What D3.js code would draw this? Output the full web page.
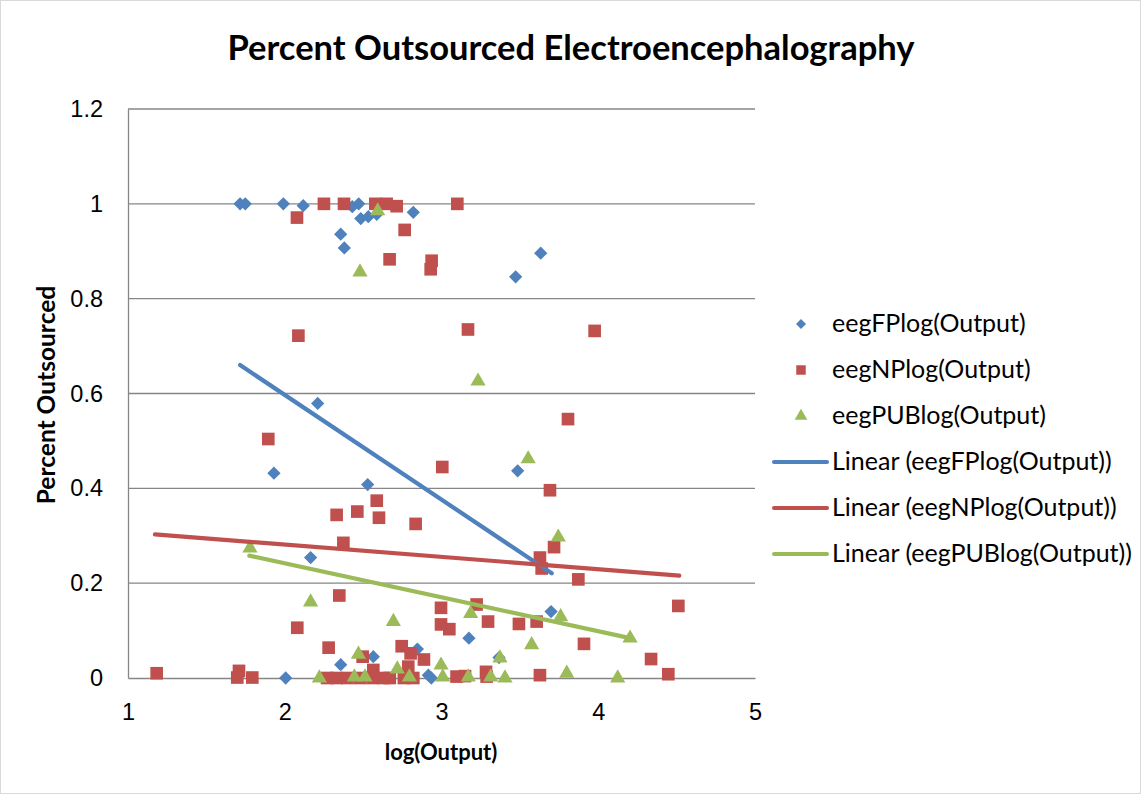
<!doctype html>
<html>
<head>
<meta charset="UTF-8" />
<title>Percent Outsourced Electroencephalography</title>
<script src="https://d3js.org/d3.v7.min.js"></script>
<style type="text/css">
body {
	margin: 0;
	background: #fff;
	font-family: Lato, "Open Sans", sans-serif;
}

.grid line {
	stroke: #868686;
	stroke-width: 1.3px;
}

.axis path, .axis line {
	stroke: #868686;
	stroke-width: 1.3px;
}

.axis text {
	font-size: 23.5px;
	fill: #000;
}

.trend {
	fill: none;
	stroke-width: 4.2px;
	stroke-linecap: round;
}
</style>
</head>
<body>
<div id="chart"></div>
<script>
	// eegFPlog(Output): [log(Output), percent outsourced]
	var fpX = [1.715, 1.748, 1.991, 2.118, 2.357, 2.380, 2.431, 2.472, 2.485, 2.533, 2.587, 2.820,
		3.633, 3.473, 2.210, 1.931, 2.529, 2.165, 3.486, 3.699, 3.175, 2.846, 3.367, 2.916, 2.935,
		2.006, 2.357, 2.565];
	var fpY = [1.0, 1.0, 1.0, 0.996, 0.936, 0.907, 0.994, 1.0, 0.969, 0.973, 0.978, 0.982,
		0.896, 0.846, 0.579, 0.432, 0.408, 0.254, 0.437, 0.140, 0.084, 0.061, 0.043, 0.006, 0.0,
		0.0, 0.028, 0.045];

	// eegNPlog(Output)
	var npX = [2.078, 2.250, 2.378, 2.578, 2.650, 2.714, 2.765, 2.669, 2.937, 2.931, 3.101,
		2.087, 1.895, 3.169, 3.977, 3.807, 3.005, 2.587, 2.331, 2.463, 2.601, 2.835, 2.374,
		3.692, 3.718, 3.628, 3.639, 3.873, 4.511, 2.997, 3.224, 2.997, 3.050, 3.297, 3.494,
		3.607, 3.909, 4.337, 4.447, 3.628, 2.803, 2.888, 2.746, 2.788, 2.778, 3.096, 3.150,
		3.284, 3.288, 1.183, 1.708, 1.697, 1.793, 2.080, 2.348, 2.280, 2.497, 2.565,
		2.270, 2.330, 2.400, 2.480, 2.560, 2.630, 2.670, 2.760, 2.820];
	var npY = [0.971, 1.0, 1.0, 1.0, 1.0, 0.995, 0.945, 0.883, 0.880, 0.862, 1.0,
		0.722, 0.504, 0.735, 0.732, 0.546, 0.445, 0.374, 0.344, 0.351, 0.338, 0.325, 0.285,
		0.396, 0.276, 0.254, 0.231, 0.208, 0.152, 0.148, 0.155, 0.113, 0.103, 0.119, 0.114,
		0.119, 0.072, 0.040, 0.008, 0.006, 0.052, 0.039, 0.067, 0.024, 0.003, 0.003, 0.004,
		0.013, 0.003, 0.010, 0.015, 0.001, 0.001, 0.106, 0.174, 0.064, 0.045, 0.017,
		0.0, 0.0, 0.0, 0.0, 0.0, 0.0, 0.0, 0.0, 0.0];

	// eegPUBlog(Output)
	var pubX = [2.593, 2.480, 3.233, 3.553, 3.745, 1.778, 2.165, 2.693, 2.470, 2.718, 2.997,
		2.221, 2.444, 2.512, 2.795, 3.008, 3.186, 3.760, 3.575, 3.373, 3.799, 4.124, 4.203,
		3.171, 3.314, 3.405];
	var pubY = [0.985, 0.856, 0.626, 0.462, 0.297, 0.274, 0.160, 0.119, 0.050, 0.019, 0.027,
		0.0, 0.002, 0.002, 0.002, 0.002, 0.136, 0.129, 0.070, 0.042, 0.010, 0.0, 0.084,
		0.002, 0.002, 0.0];

	// linear trend lines, endpoints
	var fpTrendX = [1.715, 3.703], fpTrendY = [0.660, 0.221];
	var npTrendX = [1.172, 4.517], npTrendY = [0.303, 0.216];
	var pubTrendX = [1.774, 4.203], pubTrendY = [0.258, 0.084];

	var xTicks = [1, 2, 3, 4, 5];
	var yTicks = [0, 0.2, 0.4, 0.6, 0.8, 1, 1.2];

	var seriesNames = ["eegFPlog(Output)", "eegNPlog(Output)", "eegPUBlog(Output)"];
	var colors = ["#4F81BD", "#C0504D", "#9BBB59"];

	var W = 1143, H = 795;
	var margin = {top: 109, left: 128},
		width = 627,
		height = 569;

	var svg = d3.select("#chart").append("svg")
		.attr("width", W)
		.attr("height", H);

	svg.append("rect")
		.attr("x", 0.5).attr("y", 0.5)
		.attr("width", W - 3).attr("height", H - 2)
		.attr("fill", "#fff")
		.attr("stroke", "#d9d9d9");

	var g = svg.append("g")
		.attr("transform", "translate(" + margin.left + "," + margin.top + ")");

	var x = d3.scaleLinear().domain([1, 5]).range([0, width]);
	var y = d3.scaleLinear().domain([0, 1.2]).range([height, 0]);

	g.append("g")
		.attr("class", "grid")
		.selectAll("line")
		.data(yTicks.slice(1))
		.enter().append("line")
		.attr("x1", 0).attr("x2", width)
		.attr("y1", function(d) { return y(d); })
		.attr("y2", function(d) { return y(d); });

	var xAxis = d3.axisBottom(x).tickValues(xTicks).tickSize(0).tickPadding(25)
		.tickFormat(d3.format("d"));
	var yAxis = d3.axisLeft(y).tickValues(yTicks).tickSize(0).tickPadding(25)
		.tickFormat(function(d) { return d === 0 || d === 1 ? d3.format("d")(d) : d3.format(".1f")(d); });

	g.append("g")
		.attr("class", "x axis")
		.attr("transform", "translate(0," + height + ")")
		.call(xAxis);

	g.append("g")
		.attr("class", "y axis")
		.call(yAxis);

	// markers
	var symbols = [
		d3.symbol().type(d3.symbolSquare).size(88),
		d3.symbol().type(d3.symbolSquare).size(160),
		d3.symbol().type(d3.symbolTriangle).size(100)
	];

	function toPoints(xs, ys) {
		return xs.map(function(v, i) { return [v, ys[i]]; });
	}

	var sets = [toPoints(fpX, fpY), toPoints(npX, npY), toPoints(pubX, pubY)];
	var trends = [toPoints(fpTrendX, fpTrendY), toPoints(npTrendX, npTrendY), toPoints(pubTrendX, pubTrendY)];

	sets.forEach(function(pts, i) {
		g.append("g").selectAll("path")
			.data(pts)
			.enter().append("path")
			.attr("d", symbols[i])
			.attr("transform", function(d) {
				return "translate(" + x(d[0]) + "," + y(d[1]) + ")" + (i === 0 ? " rotate(45)" : "");
			})
			.attr("fill", colors[i]);
	});

	var line = d3.line()
		.x(function(d) { return x(d[0]); })
		.y(function(d) { return y(d[1]); });

	trends.forEach(function(pts, i) {
		g.append("path")
			.datum(pts)
			.attr("class", "trend")
			.attr("stroke", colors[i])
			.attr("d", line);
	});

	// title and axis titles
	svg.append("text")
		.attr("x", 571).attr("y", 60)
		.attr("text-anchor", "middle")
		.style("font-size", "34.5px")
		.style("font-weight", "bold")
		.text("Percent Outsourced Electroencephalography");

	svg.append("text")
		.attr("x", 441).attr("y", 760)
		.attr("text-anchor", "middle")
		.style("font-size", "22px")
		.style("font-weight", "bold")
		.text("log(Output)");

	svg.append("text")
		.attr("transform", "translate(55,395) rotate(-90)")
		.attr("text-anchor", "middle")
		.style("font-size", "24.5px")
		.style("font-weight", "bold")
		.text("Percent Outsourced");

	// legend
	var legendRows = [];
	seriesNames.forEach(function(n, i) { legendRows.push({kind: "marker", i: i, label: n}); });
	seriesNames.forEach(function(n, i) { legendRows.push({kind: "line", i: i, label: "Linear (" + n + ")"}); });

	var legendSymbols = [
		d3.symbol().type(d3.symbolSquare).size(50),
		d3.symbol().type(d3.symbolSquare).size(90),
		d3.symbol().type(d3.symbolTriangle).size(70)
	];

	var legend = svg.append("g").attr("transform", "translate(773,324)");
	legendRows.forEach(function(r, k) {
		var row = legend.append("g").attr("transform", "translate(0," + (k * 46) + ")");
		if (r.kind === "marker") {
			row.append("path")
				.attr("d", legendSymbols[r.i])
				.attr("transform", "translate(28,0)" + (r.i === 0 ? " rotate(45)" : ""))
				.attr("fill", colors[r.i]);
		} else {
			row.append("line")
				.attr("x1", 1).attr("x2", 54)
				.attr("stroke", colors[r.i])
				.attr("stroke-width", 4)
				.attr("stroke-linecap", "round");
		}
		row.append("text")
			.attr("x", 59).attr("y", 8)
			.style("font-size", "25px")
			.text(r.label);
	});
</script>
</body>
</html>
